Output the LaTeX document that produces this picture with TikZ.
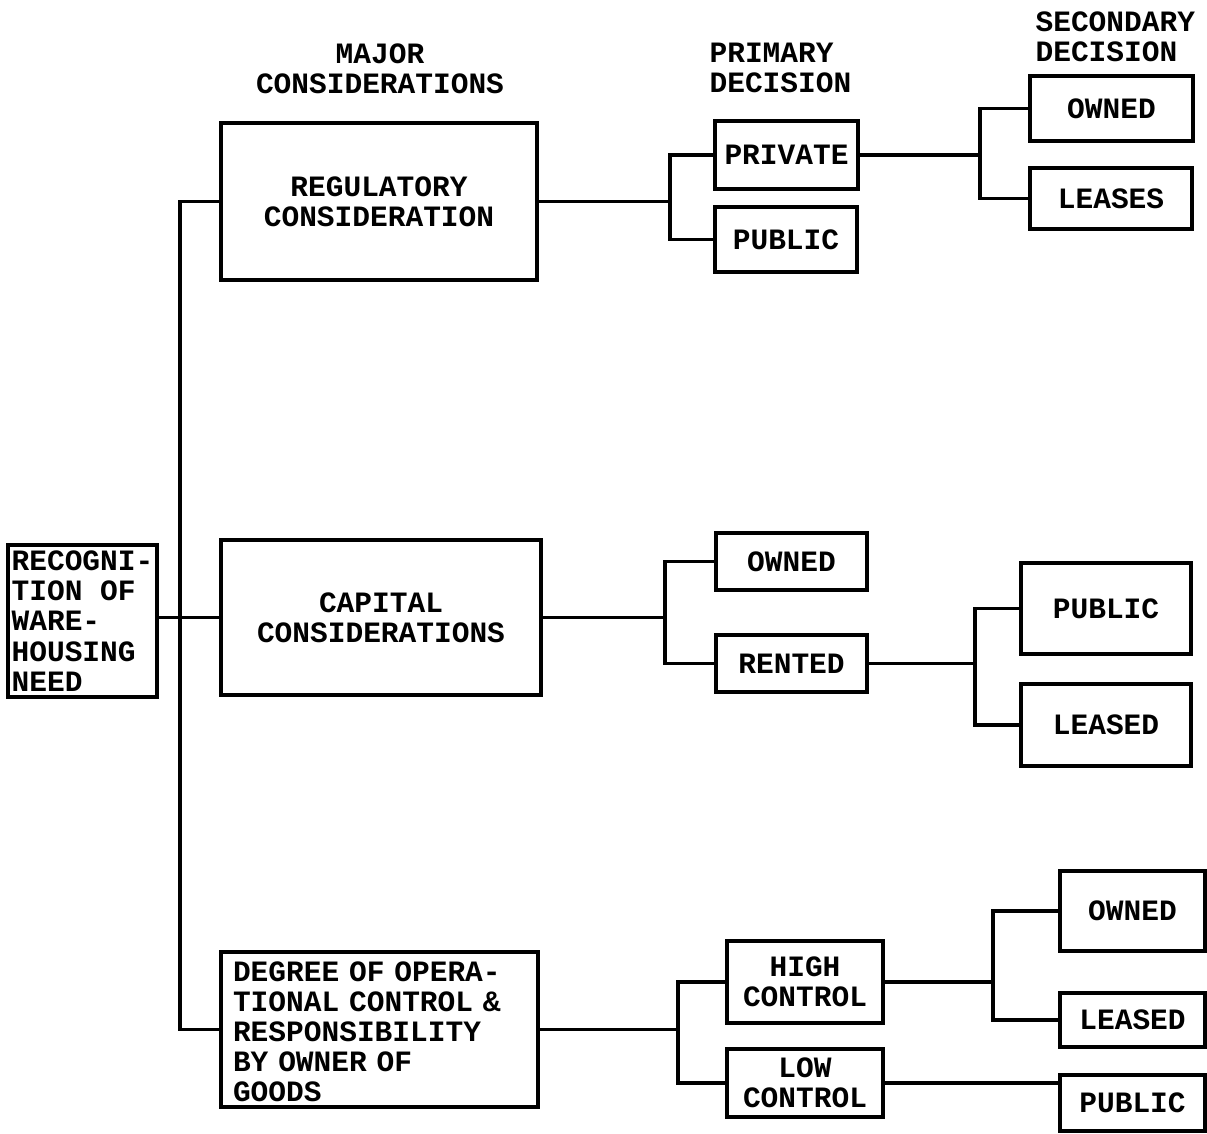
\documentclass[tikz,border=0pt]{standalone}
\usepackage{fontspec}
\setmainfont{Liberation Mono}
\usetikzlibrary{positioning}
\newcommand\tw{\fontsize{16.8}{17.2}\selectfont\bfseries}

\begin{document}
\begin{tikzpicture}[
  x=0.02cm, y=-0.02cm,
  line width=1.8pt,
  box/.style={draw,inner sep=0pt,font=\tw,align=center},
  lbox/.style={draw,inner xsep=0.24cm,inner ysep=0pt,font=\tw,align=left},
  head/.style={font=\tw,inner sep=0pt}
]
\useasboundingbox (0,0) rectangle (1207,1133);

% column headings
\node[head,align=center] (hmaj) at (380,69) {MAJOR\\CONSIDERATIONS};
\node[head,align=left,anchor=west] (hpri) at (708,68) {PRIMARY\\DECISION};
\node[head,align=left,anchor=west] (hsec) at (1034,37) {SECONDARY\\DECISION};

% first column
\node[draw,inner sep=0pt,font=\tw,align=left,minimum width=2.98cm,minimum height=3.04cm] (rec) at (82.5,621) {RECOGNI-\\TION OF\\WARE-\\HOUSING\\NEED};

% major considerations
\node[box,minimum width=6.32cm,minimum height=3.14cm] (reg) at (379,201.5) {REGULATORY\\CONSIDERATION};
\node[box,minimum width=6.4cm,minimum height=3.1cm] (cap) at (381,617.5) {CAPITAL\\CONSIDERATIONS};
\node[lbox,minimum width=6.34cm,minimum height=3.1cm,text width=5.86cm] (deg) at (379.5,1029.5) {\\[-0.12cm]DEGREE OF OPERA-\\TIONAL CONTROL \&\\RESPONSIBILITY\\BY OWNER OF\\GOODS};

% primary decision
\node[box,minimum width=2.86cm,minimum height=1.36cm] (priv) at (786.5,155) {PRIVATE};
\node[box,minimum width=2.84cm,minimum height=1.3cm] (pub1) at (786,239.5) {PUBLIC};
\node[box,minimum width=3.02cm,minimum height=1.14cm] (own2) at (791.5,561.5) {OWNED};
\node[box,minimum width=3.02cm,minimum height=1.14cm] (ren) at (791.5,663.5) {RENTED};
\node[box,minimum width=3.12cm,minimum height=1.64cm] (high) at (805,982) {HIGH\\CONTROL};
\node[box,minimum width=3.12cm,minimum height=1.36cm] (low) at (805,1083) {LOW\\CONTROL};

% secondary decision
\node[box,minimum width=3.26cm,minimum height=1.3cm] (own1) at (1111.5,108.5) {OWNED};
\node[box,minimum width=3.24cm,minimum height=1.22cm] (lea1) at (1111,198.5) {LEASES};
\node[box,minimum width=3.4cm,minimum height=1.82cm] (pub2) at (1106,608.5) {PUBLIC};
\node[box,minimum width=3.4cm,minimum height=1.64cm] (lea2) at (1106,725) {LEASED};
\node[box,minimum width=2.9cm,minimum height=1.6cm] (own3) at (1132.5,911) {OWNED};
\node[box,minimum width=2.9cm,minimum height=1.08cm] (lea3) at (1132.5,1020) {LEASED};
\node[box,minimum width=2.9cm,minimum height=1.12cm] (pub3) at (1132.5,1103) {PUBLIC};

% branch points
\coordinate (trunk) at (180,615);
\coordinate (j1) at (670,195);
\coordinate (j2) at (980,152);
\coordinate (j3) at (665,615);
\coordinate (j4) at (975,663);
\coordinate (j5) at (678,1030);
\coordinate (j6) at (993,982);

% connectors
\draw (cap.west -| rec.east) -- (cap.west);
\draw (reg.west) -| (trunk) |- (deg.west);
\draw (reg.east) -- (reg.east -| j1);
\draw (priv.west) -| (j1) |- (pub1.west);
\draw (priv.east) -- (priv.east -| j2);
\draw (own1.west) -| (j2) |- (lea1.west);
\draw (cap.east) -- (cap.east -| j3);
\draw (own2.west) -| (j3) |- (ren.west);
\draw (ren.east) -- (ren.east -| j4);
\draw (pub2.west) -| (j4) |- (lea2.west);
\draw (deg.east) -- (deg.east -| j5);
\draw (high.west) -| (j5) |- (low.west);
\draw (high.east) -- (high.east -| j6);
\draw (own3.west) -| (j6) |- (lea3.west);
\draw (low.east) -- (low.east -| pub3.west);
\end{tikzpicture}
\end{document}
